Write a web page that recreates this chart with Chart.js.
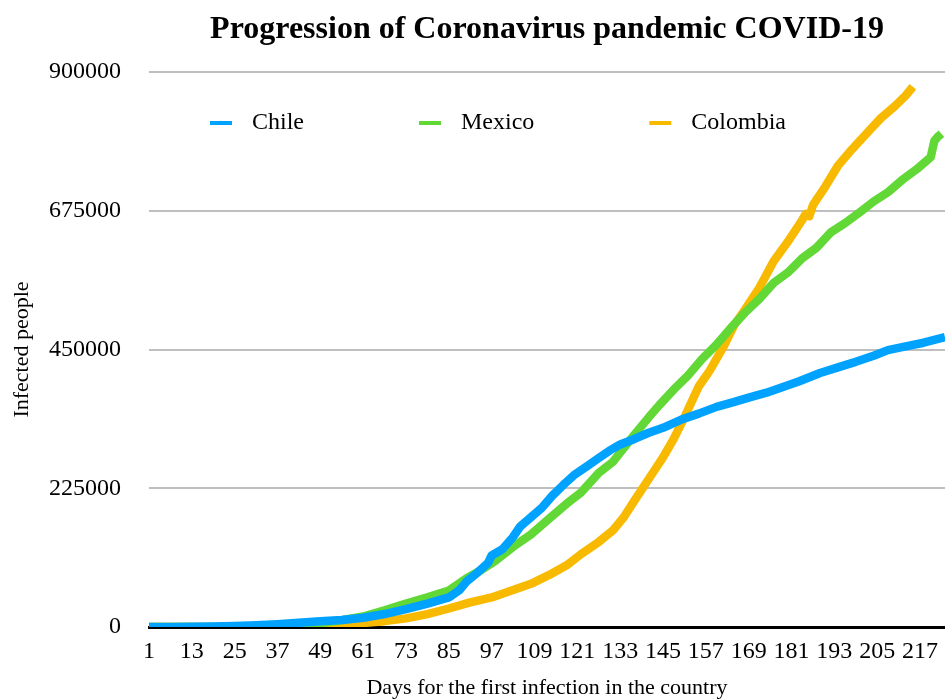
<!DOCTYPE html>
<html>
<head>
<meta charset="utf-8">
<title>Progression of Coronavirus pandemic COVID-19</title>
<script src="https://cdn.jsdelivr.net/npm/chart.js@4.4.0/dist/chart.umd.min.js"></script>
<style>
  body { margin: 0; background: #fff; }
  canvas { display: block; }
</style>
</head>
<body>
<canvas id="covidChart" width="945" height="699"></canvas>
<script>
// Values (day since first case -> infected people)
const chileDays = [1, 7, 13, 19, 25, 31, 37, 43, 49, 55, 61, 67, 73, 79, 85, 88, 90, 93, 96, 97,
  100, 103, 105, 108, 111, 114, 117, 120, 124, 127, 130, 133, 137, 141, 145, 150, 155, 160, 165,
  169, 174, 178, 183, 189, 194, 199, 204, 208, 213, 218, 224];
const chileCases = [0, 50, 250, 700, 1500, 2700, 4500, 7000, 9500, 11500, 15000, 21000, 29000, 38000,
  48000, 60000, 74000, 88000, 104000, 116000, 126000, 146000, 163000, 178000, 193000, 213000,
  230000, 246000, 262000, 274000, 286000, 296000, 305000, 315000, 323000, 336000, 346000, 357000,
  365000, 372000, 380000, 388000, 398000, 412000, 421000, 430000, 440000, 449000, 455000, 461000, 470000];

const mexicoDays = [1, 7, 13, 19, 25, 31, 37, 43, 49, 55, 61, 67, 73, 79, 85, 90, 94, 98, 103, 108,
  113, 118, 122, 127, 131, 134, 137, 141, 144, 148, 152, 156, 160, 164, 168, 172, 176, 180, 184,
  188, 192, 196, 200, 204, 208, 212, 216, 219, 220, 221, 222, 223];
const mexicoCases = [0, 0, 20, 100, 400, 1000, 2000, 4000, 6500, 11000, 17000, 27000, 38000, 48000,
  59000, 79000, 92000, 107000, 130000, 150000, 175000, 200000, 218000, 250000, 268000, 290000,
  312000, 340000, 360000, 385000, 408000, 435000, 458000, 485000, 510000, 532000, 558000, 575000,
  598000, 615000, 640000, 655000, 672000, 690000, 705000, 725000, 742000, 757000, 762000, 788000,
  795000, 800000];

const colombiaDays = [1, 13, 25, 37, 49, 55, 61, 67, 73, 79, 85, 91, 97, 103, 108, 113, 118, 122,
  127, 131, 134, 137, 141, 145, 148, 151, 155, 158, 162, 165, 168, 172, 176, 180, 184, 185, 186,
  187, 190, 194, 198, 202, 206, 210, 213, 215];
const colombiaCases = [0, 0, 100, 1200, 3000, 4000, 6500, 9500, 14000, 21000, 30000, 40000, 48000,
  60000, 70000, 84000, 100000, 118000, 138000, 157000, 178000, 205000, 240000, 275000, 305000,
  340000, 390000, 415000, 455000, 490000, 515000, 550000, 593000, 625000, 660000, 670000, 666000,
  684000, 710000, 748000, 775000, 800000, 825000, 845000, 862000, 876000];

const seriesNames = ['Chile', 'Mexico', 'Colombia'];
const seriesColors = ['#00A2FF', '#61D836', '#F8BA00'];
const dayTicks = [1, 13, 25, 37, 49, 61, 73, 85, 97, 109, 121, 133, 145, 157, 169, 181, 193, 205, 217];
const caseTicks = [0, 225000, 450000, 675000, 900000];

const serif = '"Liberation Serif", "Times New Roman", serif';

function toPoints(days, values) {
  return days.map((d, i) => ({ x: d, y: values[i] }));
}

// legend sits inside the plot area, in one row
const inlineLegend = {
  id: 'inlineLegend',
  afterDatasetsDraw(chart) {
    const ctx = chart.ctx;
    const area = chart.chartArea;
    let x = area.left + 61;
    const y = area.top + 51;
    ctx.save();
    ctx.font = '24px ' + serif;
    ctx.textBaseline = 'middle';
    ctx.textAlign = 'left';
    chart.data.datasets.forEach(ds => {
      ctx.strokeStyle = ds.borderColor;
      ctx.lineWidth = 4;
      ctx.beginPath();
      ctx.moveTo(x, y);
      ctx.lineTo(x + 22, y);
      ctx.stroke();
      ctx.fillStyle = '#000';
      ctx.fillText(ds.label, x + 42, y);
      x += 42 + ctx.measureText(ds.label).width + 115;
    });
    ctx.restore();
  }
};

const allSeries = [
  toPoints(chileDays, chileCases),
  toPoints(mexicoDays, mexicoCases),
  toPoints(colombiaDays, colombiaCases)
];

new Chart(document.getElementById('covidChart'), {
  type: 'line',
  data: {
    datasets: seriesNames.map((name, i) => ({
      label: name,
      data: allSeries[i],
      borderColor: seriesColors[i],
      backgroundColor: seriesColors[i],
      borderWidth: 8.5,
      borderJoinStyle: 'round',
      pointRadius: 0,
      tension: 0,
      fill: false
    }))
  },
  options: {
    responsive: false,
    animation: false,
    layout: { padding: 0 },
    plugins: {
      legend: { display: false },
      tooltip: { enabled: false },
      title: {
        display: true,
        fullSize: false,
        text: 'Progression of Coronavirus pandemic COVID-19',
        color: '#000',
        font: { family: serif, size: 32, weight: 'bold', lineHeight: 1.2 },
        padding: { top: 11, bottom: 22.6 }
      }
    },
    scales: {
      x: {
        type: 'linear',
        min: 1,
        max: 224,
        afterBuildTicks: scale => { scale.ticks = dayTicks.map(v => ({ value: v })); },
        afterFit: scale => {
          scale.height = 72;
          scale.paddingLeft = 0;
          scale.paddingRight = 0;
        },
        grid: { display: false, drawTicks: false },
        border: { display: true, color: '#000', width: 3 },
        ticks: {
          color: '#000',
          font: { family: serif, size: 24 },
          padding: 10,
          maxRotation: 0,
          autoSkip: false
        },
        title: {
          display: true,
          text: 'Days for the first infection in the country',
          color: '#000',
          font: { family: serif, size: 22, lineHeight: 1 },
          padding: { top: 0, bottom: 0 }
        }
      },
      y: {
        min: 0,
        max: 900000,
        afterBuildTicks: scale => { scale.ticks = caseTicks.map(v => ({ value: v })); },
        afterFit: scale => { scale.width = 149; },
        grid: {
          drawTicks: false,
          color: c => c.tick && c.tick.value === 0 ? '#000' : '#BFBFBF',
          lineWidth: c => c.tick && c.tick.value === 0 ? 3 : 2
        },
        border: { display: false },
        ticks: {
          color: '#000',
          font: { family: serif, size: 24 },
          padding: 28,
          callback: v => String(v)
        },
        title: {
          display: true,
          text: 'Infected people',
          color: '#000',
          font: { family: serif, size: 22, lineHeight: 1 },
          padding: { top: 11, bottom: 0 }
        }
      }
    }
  },
  plugins: [inlineLegend]
});
</script>
</body>
</html>
